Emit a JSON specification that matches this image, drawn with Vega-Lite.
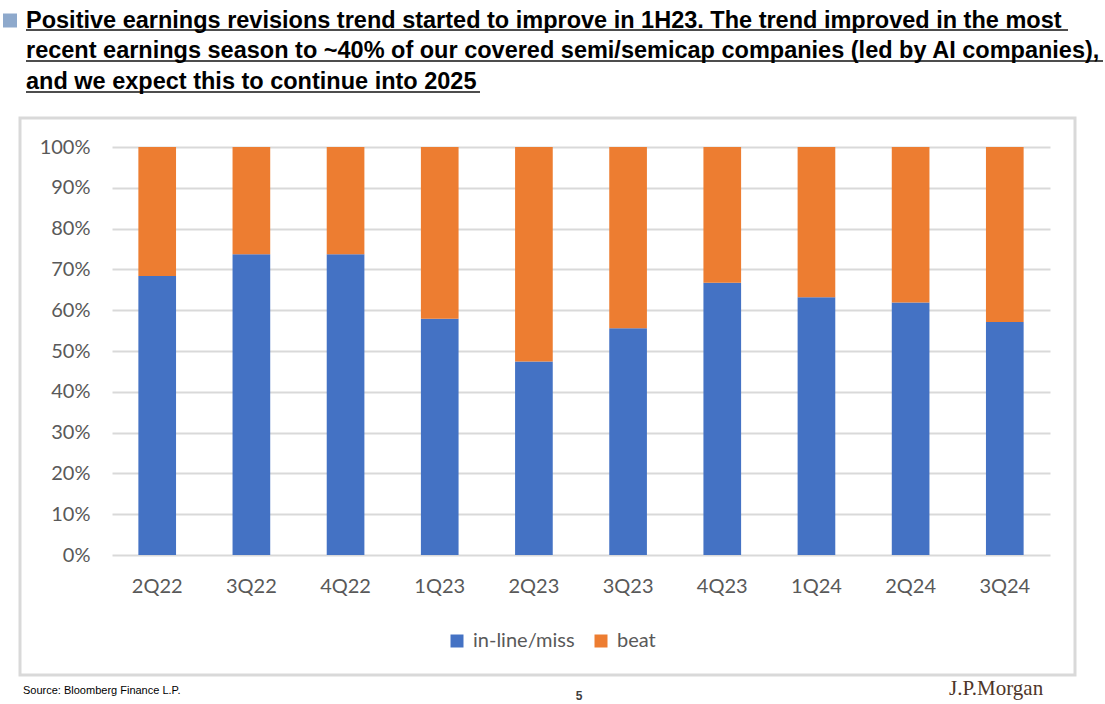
{
  "$schema": "https://vega.github.io/schema/vega-lite/v6.json",
  "width": 938,
  "height": 408,
  "autosize": {"type": "none"},
  "padding": {"left": 112, "top": 147, "right": 55, "bottom": 149},
  "background": "white",
  "config": {
    "view": {"stroke": null},
    "font": "Lato"
  },
  "title": {
    "text": [
      "Positive earnings revisions trend started to improve in 1H23. The trend improved in the most",
      "recent earnings season to ~40% of our covered semi/semicap companies (led by AI companies),",
      "and we expect this to continue into 2025"
    ],
    "anchor": "start",
    "frame": "group",
    "font": "Liberation Sans",
    "fontSize": 23.5,
    "fontWeight": "bold",
    "color": "#000000",
    "lineHeight": 30.5,
    "baseline": "top",
    "dx": -86,
    "dy": 79.5,
    "offset": 0
  },
  "layer": [
    {
      "data": {"values": [{}]},
      "mark": {"type": "rect", "fill": null, "stroke": "#d9d9d9", "strokeWidth": 3},
      "encoding": {
        "x": {"value": -92},
        "x2": {"value": 963},
        "y": {"value": -29},
        "y2": {"value": 528}
      }
    },
    {
      "data": {
        "values": [
          {"series": "in-line/miss", "quarter": "2Q22", "share": 0.684},
          {"series": "beat", "quarter": "2Q22", "share": 0.316},
          {"series": "in-line/miss", "quarter": "3Q22", "share": 0.737},
          {"series": "beat", "quarter": "3Q22", "share": 0.263},
          {"series": "in-line/miss", "quarter": "4Q22", "share": 0.737},
          {"series": "beat", "quarter": "4Q22", "share": 0.263},
          {"series": "in-line/miss", "quarter": "1Q23", "share": 0.579},
          {"series": "beat", "quarter": "1Q23", "share": 0.421},
          {"series": "in-line/miss", "quarter": "2Q23", "share": 0.474},
          {"series": "beat", "quarter": "2Q23", "share": 0.526},
          {"series": "in-line/miss", "quarter": "3Q23", "share": 0.556},
          {"series": "beat", "quarter": "3Q23", "share": 0.444},
          {"series": "in-line/miss", "quarter": "4Q23", "share": 0.667},
          {"series": "beat", "quarter": "4Q23", "share": 0.333},
          {"series": "in-line/miss", "quarter": "1Q24", "share": 0.632},
          {"series": "beat", "quarter": "1Q24", "share": 0.368},
          {"series": "in-line/miss", "quarter": "2Q24", "share": 0.619},
          {"series": "beat", "quarter": "2Q24", "share": 0.381},
          {"series": "in-line/miss", "quarter": "3Q24", "share": 0.571},
          {"series": "beat", "quarter": "3Q24", "share": 0.429}
        ]
      },
      "mark": {"type": "bar"},
      "encoding": {
        "x": {
          "field": "quarter",
          "type": "ordinal",
          "sort": ["2Q22", "3Q22", "4Q22", "1Q23", "2Q23", "3Q23", "4Q23", "1Q24", "2Q24", "3Q24"],
          "scale": {"paddingInner": 0.6, "paddingOuter": 0.28},
          "axis": {
            "title": null,
            "labelAngle": 0,
            "labelFont": "Lato",
            "labelFontSize": 20,
            "labelColor": "#595959",
            "labelPadding": 21,
            "ticks": false,
            "domain": false,
            "grid": false
          }
        },
        "y": {
          "field": "share",
          "type": "quantitative",
          "stack": "zero",
          "scale": {"domain": [0, 1], "nice": false},
          "axis": {
            "title": null,
            "format": ".0%",
            "values": [0, 0.1, 0.2, 0.3, 0.4, 0.5, 0.6, 0.7, 0.8, 0.9, 1],
            "labelFont": "Lato",
            "labelFontSize": 20,
            "labelColor": "#595959",
            "labelPadding": 22,
            "ticks": false,
            "domain": false,
            "grid": true,
            "gridColor": "#d9d9d9",
            "gridWidth": 2
          }
        },
        "color": {
          "field": "series",
          "type": "nominal",
          "sort": ["in-line/miss", "beat"],
          "scale": {"domain": ["in-line/miss", "beat"], "range": ["#4472c4", "#ed7d31"]},
          "legend": {
            "title": null,
            "orient": "none",
            "direction": "horizontal",
            "legendX": 335,
            "legendY": 484,
            "padding": 0,
            "symbolType": "square",
            "symbolSize": 169,
            "symbolStrokeWidth": 0,
            "symbolOpacity": 1,
            "labelFont": "Lato",
            "labelFontSize": 20,
            "labelColor": "#595959",
            "labelOffset": 6,
            "columnPadding": 16
          }
        },
        "order": {"field": "series", "sort": "descending"}
      }
    },
    {
      "data": {"values": [{}]},
      "mark": {"type": "square", "filled": true, "color": "#8ea9cc", "opacity": 1, "size": 196},
      "encoding": {"x": {"value": -102}, "y": {"value": -126.5}}
    },
    {
      "data": {"values": [{}]},
      "mark": {"type": "rule", "color": "#4d4d4d", "strokeWidth": 1.8},
      "encoding": {"x": {"value": -86}, "x2": {"value": 956}, "y": {"value": -117}}
    },
    {
      "data": {"values": [{}]},
      "mark": {"type": "rule", "color": "#4d4d4d", "strokeWidth": 1.8},
      "encoding": {"x": {"value": -86}, "x2": {"value": 991}, "y": {"value": -86}}
    },
    {
      "data": {"values": [{}]},
      "mark": {"type": "rule", "color": "#4d4d4d", "strokeWidth": 1.8},
      "encoding": {"x": {"value": -86}, "x2": {"value": 368}, "y": {"value": -55}}
    },
    {
      "data": {"values": [{}]},
      "mark": {"type": "text", "text": "Source: Bloomberg Finance L.P.", "font": "Liberation Sans", "fontSize": 11, "color": "#000000", "align": "left", "baseline": "alphabetic", "x": -89, "y": 547},
      "encoding": {}
    },
    {
      "data": {"values": [{}]},
      "mark": {"type": "text", "text": "5", "font": "Liberation Sans", "fontSize": 12, "fontWeight": "bold", "color": "#404040", "align": "center", "baseline": "alphabetic", "x": 467, "y": 553},
      "encoding": {}
    },
    {
      "data": {"values": [{}]},
      "mark": {"type": "text", "text": "J.P.Morgan", "font": "Liberation Serif", "fontSize": 21, "color": "#4e3629", "align": "left", "baseline": "alphabetic", "x": 837, "y": 548},
      "encoding": {}
    }
  ]
}
